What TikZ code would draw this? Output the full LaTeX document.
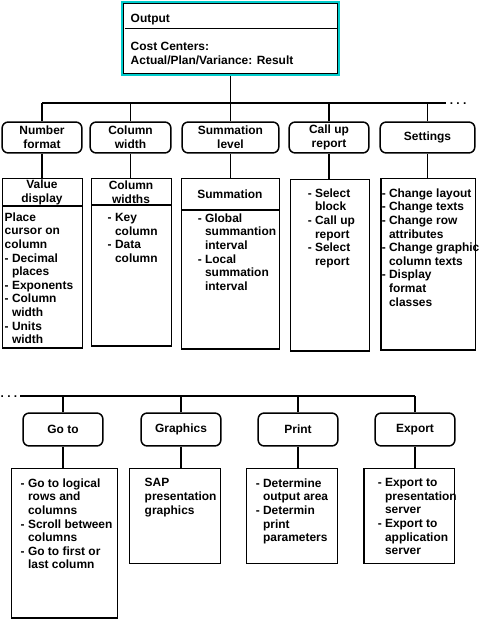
\documentclass[tikz,border=0pt]{standalone}
\usepackage{fontspec}
\setmainfont{Liberation Sans}
\definecolor{boxcyan}{RGB}{0,204,204}
\newcommand{\ind}{\hphantom{-\ }}
\begin{document}
\begin{tikzpicture}[x=1bp,y=-1bp,line width=1.5,
every node/.style={font=\fontsize{12}{13.65}\selectfont\bfseries,inner sep=0},
hdrbox/.style={draw,rounded corners=6,minimum width=80,minimum height=31,align=center},
detbox/.style={draw,anchor=north west},
bodytext/.style={anchor=north west,align=left,execute at begin node=\strut},
headtext/.style={align=center}]
\useasboundingbox (0,0) rectangle (479,619);
\node (out) at (230.5,38.5) [draw=boxcyan,line width=3,minimum width=216,minimum height=72] {};
\draw[line width=1] ([shift={(2,2)}]out.north west) rectangle ([shift={(-2,-2)}]out.south east);
\draw[line width=1] (124.5,29) -- (337,29);
\node (outtitle) at (130,12) [bodytext] {Output};
\node (outbody) at (130,41.5) [bodytext] {Cost Centers:\\Actual/Plan/Variance: Result};
\coordinate (busa) at (42,103);
\coordinate (busb) at (446,103);
\draw (busa) -- (busb);
\node (dotsa) at (449,104) [anchor=west] {.\ .\ .};
\draw (out.south) -- (out.south |- busa);
\node (numhdr) at (42,137.5) [hdrbox] {Number\\format};
\node (colhdr) at (130.5,137.5) [hdrbox,minimum width=81] {Column\\width};
\node (sumhdr) at (230.5,137.5) [hdrbox,minimum width=97] {Summation\\level};
\node (rephdr) at (329,137.5) [hdrbox] {Call up\\report};
\node (sethdr) at (427.5,137.5) [hdrbox,minimum width=95] {Settings};
\node (valbox) at (2,178) [detbox,minimum width=80,minimum height=170] {};
\node (cwbox) at (91,178) [detbox,minimum width=80,minimum height=168] {};
\node (sumbox) at (181,178) [detbox,minimum width=98,minimum height=171] {};
\node (repbox) at (290,179) [detbox,minimum width=79,minimum height=172] {};
\node (setbox) at (380,178) [detbox,minimum width=95,minimum height=172] {};
\foreach \h/\b in {numhdr/valbox,colhdr/cwbox,sumhdr/sumbox,rephdr/repbox,sethdr/setbox}
{\draw (\h.north) -- (\h.north |- busa);
\draw (\h.south) -- (\h.south |- \b.north);}
\draw (valbox.west |- 0,206) -- (valbox.east |- 0,206);
\draw (cwbox.west |- 0,205) -- (cwbox.east |- 0,205);
\draw (sumbox.west |- 0,210) -- (sumbox.east |- 0,210);
\node (valhead) at (42,192.5) [headtext] {Value\\display};
\node (cwhead) at (131,192) [headtext] {Column\\widths};
\node (sumhead) at (230,194.5) [headtext] {Summation};
\node (valbody) at (4,211.8) [bodytext] {Place\\cursor on\\column\\- Decimal\\\ind places\\- Exponents\\- Column\\\ind width\\- Units\\\ind width};
\node (cwbody) at (107,212.8) [bodytext] {- Key\\\ind column\\- Data\\\ind column};
\node (sumbody) at (197,212.8) [bodytext] {- Global\\\ind summantion\\\ind interval\\- Local\\\ind summation\\\ind interval};
\node (repbody) at (307,187.8) [bodytext] {- Select\\\ind block\\- Call up\\\ind report\\- Select\\\ind report};
\node (setbody) at (381,187.8) [bodytext] {- Change layout\\- Change texts\\- Change row\\\ind attributes\\- Change graphic\\\ind column texts\\- Display\\\ind format\\\ind classes};
\coordinate (busc) at (20,396);
\coordinate (busd) at (415,396);
\draw (busc) -- (busd);
\node (dotsb) at (18,397) [anchor=east] {.\ .\ .};
\node (gotohdr) at (63,429.5) [hdrbox,minimum height=33] {Go to};
\node (grahdr) at (181,429.5) [hdrbox,minimum height=33] {Graphics};
\node (prnhdr) at (298,429.5) [hdrbox,minimum height=33] {Print};
\node (exphdr) at (415,429.5) [hdrbox,minimum height=33] {Export};
\node (gotobox) at (11,468) [detbox,minimum width=106,minimum height=150] {};
\node (grabox) at (129,468) [detbox,minimum width=91,minimum height=95] {};
\node (prnbox) at (246,468) [detbox,minimum width=91,minimum height=95] {};
\node (expbox) at (363,468) [detbox,minimum width=91,minimum height=95] {};
\foreach \h/\b in {gotohdr/gotobox,grahdr/grabox,prnhdr/prnbox,exphdr/expbox}
{\draw (\h.north) -- (\h.north |- busc);
\draw (\h.south) -- (\h.south |- \b.north);}
\node (gotobody) at (20,477.8) [bodytext] {- Go to logical\\\ind rows and\\\ind columns\\- Scroll between\\\ind columns\\- Go to first or\\\ind last column};
\node (grabody) at (144,477.8) [bodytext] {SAP\\presentation\\graphics};
\node (prnbody) at (255,477.8) [bodytext] {- Determine\\\ind output area\\- Determin\\\ind print\\\ind parameters};
\node (expbody) at (377,477.8) [bodytext] {- Export to\\\ind presentation\\\ind server\\- Export to\\\ind application\\\ind server};
\end{tikzpicture}
\end{document}
